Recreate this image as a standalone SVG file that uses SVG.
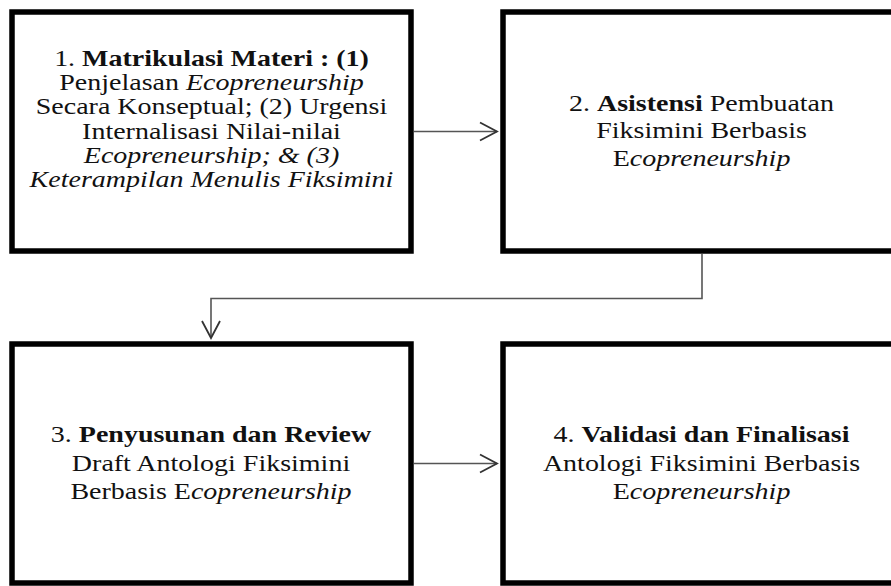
<svg xmlns="http://www.w3.org/2000/svg" width="891" height="586" viewBox="0 0 891 586">
<style>
.box{fill:#fff;stroke:#000;stroke-width:5.5}
.t{font-family:"Liberation Serif","Times New Roman",serif;font-size:24px;fill:#111;text-anchor:middle}
.b{font-weight:bold}
.i{font-style:italic}
.c{fill:none;stroke:#555;stroke-width:1.6}
</style>
<defs>
<marker id="ah" markerUnits="userSpaceOnUse" markerWidth="22" markerHeight="22" viewBox="-19 -11 22 22" refX="0" refY="0" orient="auto" overflow="visible">
<path d="M-17,-9 L0,0 L-17,9" fill="none" stroke="#333" stroke-width="1.8"/>
</marker>
</defs>
<rect width="891" height="586" fill="#fff"/>
<g id="connectors">
<path class="c" d="M414,131.5 H497" marker-end="url(#ah)"/>
<path class="c" d="M702,254 V298.5 H211 V338" marker-end="url(#ah)"/>
<path class="c" d="M414,463.5 H497" marker-end="url(#ah)"/>
</g>
<g id="node1">
<rect class="box" x="12" y="12" width="399" height="239"/>
<g transform="translate(211.5 0) scale(1.1667 1)">
<text class="t"><tspan x="0" y="66">1. <tspan class="b">Matrikulasi Materi : (1)</tspan></tspan><tspan x="0" y="90.2">Penjelasan <tspan class="i">Ecopreneurship</tspan></tspan><tspan x="0" y="114.4">Secara Konseptual; (2) Urgensi</tspan><tspan x="0" y="138.6">Internalisasi Nilai-nilai</tspan><tspan x="0" y="162.8" class="i">Ecopreneurship; &amp; (3)</tspan><tspan x="0" y="187" class="i">Keterampilan Menulis Fiksimini</tspan></text>
</g>
</g>
<g id="node2">
<rect class="box" x="503" y="12" width="397" height="239"/>
<g transform="translate(701.5 0) scale(1.1667 1)">
<text class="t"><tspan x="0" y="111">2. <tspan class="b">Asistensi</tspan> Pembuatan</tspan><tspan x="0" y="138.5">Fiksimini Berbasis</tspan><tspan x="0" y="166">E<tspan class="i">copreneurship</tspan></tspan></text>
</g>
</g>
<g id="node3">
<rect class="box" x="12" y="344" width="399" height="239"/>
<g transform="translate(211 0) scale(1.1667 1)">
<text class="t"><tspan x="0" y="442.5">3. <tspan class="b">Penyusunan dan Review</tspan></tspan><tspan x="0" y="471">Draft Antologi Fiksimini</tspan><tspan x="0" y="499.5">Berbasis E<tspan class="i">copreneurship</tspan></tspan></text>
</g>
</g>
<g id="node4">
<rect class="box" x="503" y="344" width="397" height="239"/>
<g transform="translate(701.5 0) scale(1.1667 1)">
<text class="t"><tspan x="0" y="442.5">4. <tspan class="b">Validasi dan Finalisasi</tspan></tspan><tspan x="0" y="471">Antologi Fiksimini Berbasis</tspan><tspan x="0" y="499.5">E<tspan class="i">copreneurship</tspan></tspan></text>
</g>
</g>
</svg>
